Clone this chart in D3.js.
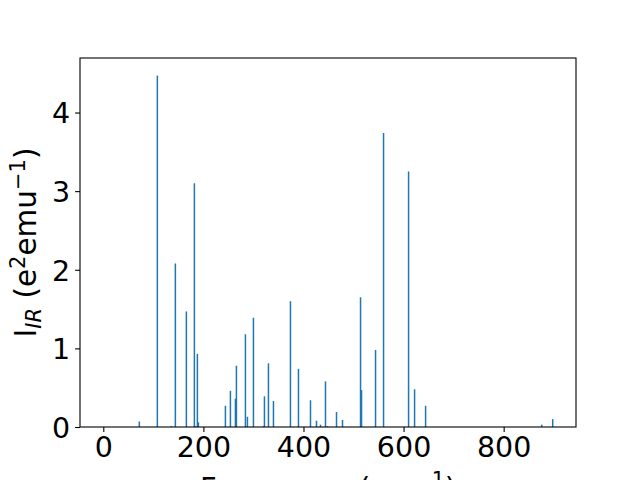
<!DOCTYPE html>
<html>
<head>
<meta charset="utf-8">
<script src="https://cdn.jsdelivr.net/npm/d3@7"></script>
<style>
  body { margin: 0; background: #fff; }
  text { font-family: 'DejaVu Sans', sans-serif; fill: #000; }
</style>
</head>
<body>
<div id="chart"></div>
<script>
// vibrational modes
const frequencies = [0, 72, 108, 136, 144, 166, 182, 184, 188, 190, 244, 254, 264, 266, 284, 288,
  300, 320, 322, 330, 340, 374, 390, 414, 426, 434, 444, 448, 466, 478, 514, 516, 544, 560,
  610, 622, 644, 876, 898];
const intensities = [0, 0.07, 4.47, 0.01, 2.08, 1.47, 3.10, 0.01, 0.93, 0.06, 0.27, 0.46, 0.36, 0.78,
  1.18, 0.13, 1.39, 0.01, 0.39, 0.81, 0.33, 1.60, 0.74, 0.34, 0.08, 0.03, 0.58, 0.01, 0.19, 0.09,
  1.65, 0.47, 0.98, 3.74, 3.25, 0.48, 0.27, 0.03, 0.10];
const xTicks = [0, 200, 400, 600, 800];
const yTicks = [0, 1, 2, 3, 4];

const barWidth = 3;

const svgWidth = 640;
const svgHeight = 480;
const margin = { top: 58, right: 64, bottom: 53, left: 80 };
const chartWidth = svgWidth - margin.left - margin.right;
const chartHeight = svgHeight - margin.top - margin.bottom;

const data = frequencies.map((f, i) => ({ f: f, v: intensities[i] }));

const svg = d3.select('#chart').append('svg')
  .attr('width', svgWidth)
  .attr('height', svgHeight);

const g = svg.append('g')
  .attr('transform', `translate(${margin.left}, ${margin.top})`);

const lo = d3.min(frequencies) - barWidth / 2;
const hi = d3.max(frequencies) + barWidth / 2;
const pad = (hi - lo) * 0.05;

const x = d3.scaleLinear().domain([lo - pad, hi + pad]).range([0, chartWidth]);
const y = d3.scaleLinear().domain([0, d3.max(intensities) * 1.05]).range([chartHeight, 0]);

g.selectAll('rect.bar')
  .data(data)
  .enter()
  .append('rect')
  .attr('class', 'bar')
  .attr('x', (d) => x(d.f - barWidth / 2))
  .attr('width', (d) => x(d.f + barWidth / 2) - x(d.f - barWidth / 2))
  .attr('y', (d) => y(d.v))
  .attr('height', (d) => chartHeight - y(d.v))
  .attr('fill', '#1f77b4');

const xAxis = g.append('g')
  .attr('transform', `translate(0, ${chartHeight})`)
  .call(d3.axisBottom(x).tickValues(xTicks).tickSize(4.9).tickSizeOuter(0).tickPadding(4.9));

const yAxis = g.append('g')
  .call(d3.axisLeft(y).tickValues(yTicks).tickFormat(d3.format('d')).tickSize(4.9).tickSizeOuter(0).tickPadding(4.9));

[xAxis, yAxis].forEach((ax) => {
  ax.select('.domain').remove();
  ax.selectAll('line').attr('stroke', '#000').attr('stroke-width', 1.1);
  ax.selectAll('text')
    .attr('font-size', '28.5px')
    .attr('font-family', "'DejaVu Sans', sans-serif")
    .attr('fill', '#000');
});
yAxis.selectAll('text').attr('dy', '0.36em');

// frame
g.append('rect')
  .attr('width', chartWidth)
  .attr('height', chartHeight)
  .attr('fill', 'none')
  .attr('stroke', '#000')
  .attr('stroke-width', 1.1);

// axis labels
const xLabel = svg.append('text')
  .attr('x', margin.left + chartWidth / 2)
  .attr('y', 498)
  .attr('text-anchor', 'middle')
  .attr('font-size', '29px');
xLabel.append('tspan').text('Frequency (cm');
xLabel.append('tspan').attr('font-size', '20.5px').attr('dy', -11).text('\u22121');
xLabel.append('tspan').attr('dy', 11).text(')');

const yLabel = svg.append('text')
  .attr('transform', `translate(36, ${margin.top + chartHeight / 2}) rotate(-90)`)
  .attr('text-anchor', 'middle')
  .attr('font-size', '29.5px');
yLabel.append('tspan').text('I');
yLabel.append('tspan').attr('font-size', '21px').attr('font-style', 'italic').attr('dy', 5).text('IR');
yLabel.append('tspan').attr('dy', -5).text(' (e');
yLabel.append('tspan').attr('font-size', '21px').attr('dy', -11.5).text('2');
yLabel.append('tspan').attr('dy', 11.5).text('emu');
yLabel.append('tspan').attr('font-size', '21px').attr('dy', -11.5).text('\u22121');
yLabel.append('tspan').attr('dy', 11.5).text(')');
</script>
</body>
</html>
